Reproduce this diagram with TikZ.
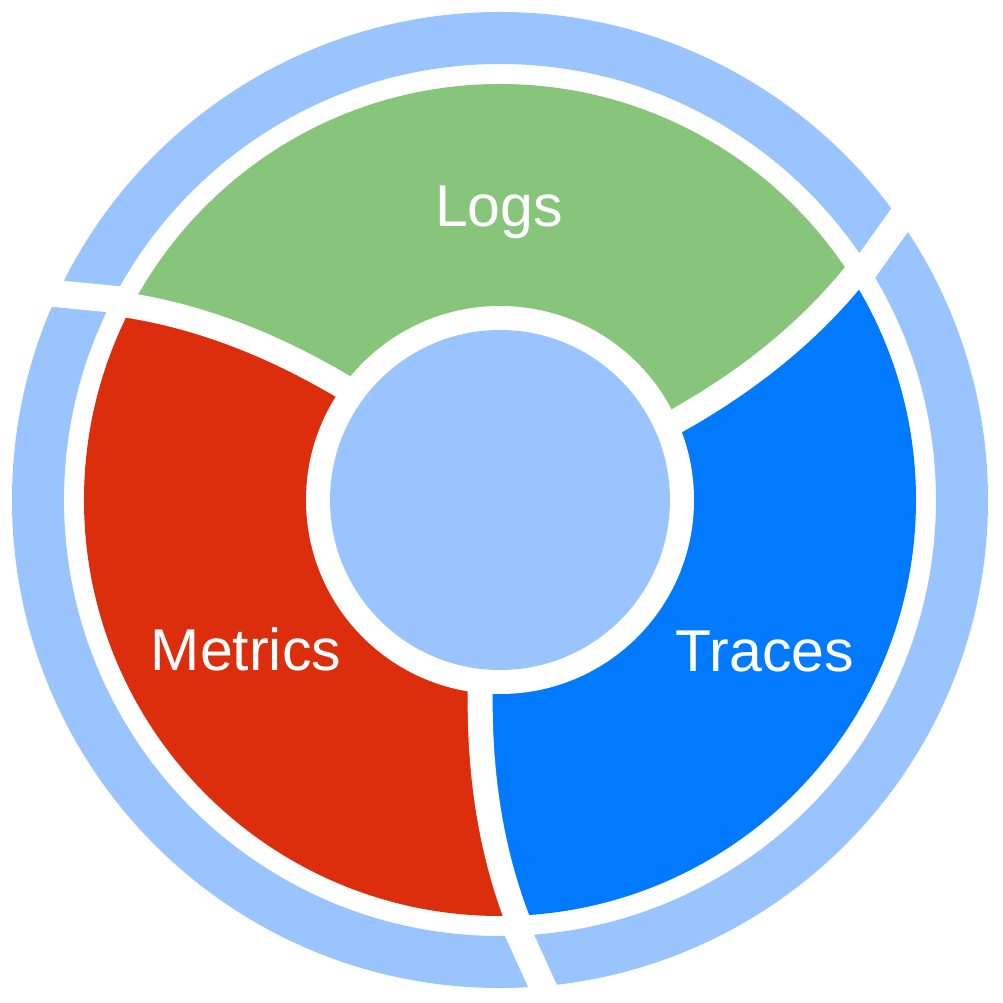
\documentclass[tikz,border=0pt]{standalone}
\usepackage{fontspec}
\setmainfont{Liberation Sans}
\usetikzlibrary{calc}
\definecolor{ringblue}{HTML}{9AC4FD}
\definecolor{logsgreen}{HTML}{87C67A}
\definecolor{metricsred}{HTML}{DC2E0C}
\definecolor{tracesblue}{HTML}{027AFF}
\pgfmathdeclarefunction{swirl}{2}{\pgfmathparse{#2+8*(0.75*((#1-196)/220)+0.25*((#1-196)/220)*((#1-196)/220))}}
\begin{document}
\begin{tikzpicture}[x=1pt,y=1pt,
  pillar/.style={text=white, font=\fontsize{59}{70}\selectfont, anchor=base, inner sep=0pt},
  gapline/.style={draw=white, line width=25pt},
  ringgap/.style={draw=white, line width=27pt}]
\useasboundingbox (-500,-503) rectangle (502,500);
\fill[white] (-500,-503) rectangle (502,500);
\coordinate (c) at (0,0);
% outer ring
\fill[ringblue, even odd rule] (c) circle[radius=488pt] (c) circle[radius=436pt];
\foreach \k in {0,1,2}{
  \coordinate (ga\k) at ({272.6+120*\k}:436.5);
  \coordinate (gb\k) at ({275.0+120*\k}:487.9);
  \draw[ringgap] ($(ga\k)!-0.3!(gb\k)$) -- ($(ga\k)!1.4!(gb\k)$);
}
% segments
\begin{scope}
\clip (c) circle[radius=416pt];
\foreach \base/\col in {264.2/tracesblue, 384.2/logsgreen, 504.2/metricsred}{
  \pgfmathsetmacro\sa{swirl(560,\base)}
  \pgfmathsetmacro\ea{swirl(560,\base+120)}
  \pgfmathsetmacro\nb{\base+120}
  \fill[\col] (c) -- plot[domain=150:560, samples=40, variable=\rr]
      ({\rr*cos(swirl(\rr,\base))},{\rr*sin(swirl(\rr,\base))})
    arc[start angle=\sa, end angle=\ea, radius=560pt]
    -- plot[domain=150:560, samples=40, variable=\ss]
      ({(710-\ss)*cos(swirl(710-\ss,\nb))},{(710-\ss)*sin(swirl(710-\ss,\nb))})
    -- cycle;
}
\end{scope}
% gaps between segments
\foreach \base in {264.2,384.2,504.2}{
  \draw[gapline] plot[smooth, domain=150:428, samples=40, variable=\rr]
    ({\rr*cos(swirl(\rr,\base))},{\rr*sin(swirl(\rr,\base))});
}
% hub
\node[circle, fill=white, minimum size=388pt, inner sep=0pt] (hubring) at (c) {};
\node[circle, fill=ringblue, minimum size=340pt, inner sep=0pt] (hub) at (c) {};
% labels
\node[pillar] (logs) at (-1,273) {Logs};
\node[pillar] (metrics) at (-254,-170) {Metrics};
\node[pillar] (traces) at (265,-171) {Traces};
\end{tikzpicture}
\end{document}
